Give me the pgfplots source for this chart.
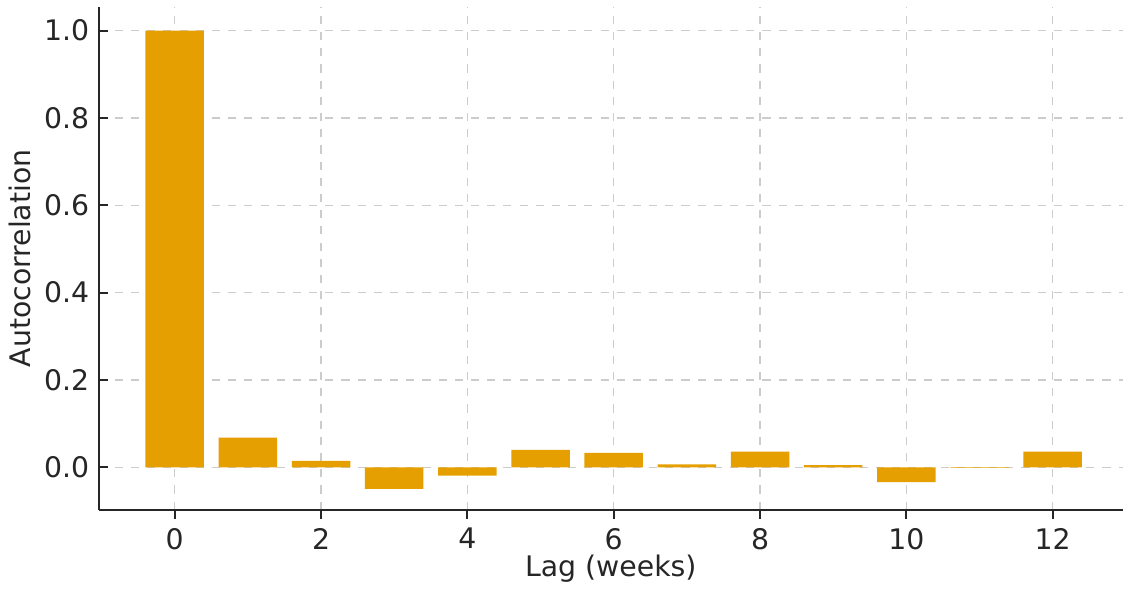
\documentclass[border=0pt]{standalone}
\usepackage{pgfplots}
\pgfplotsset{compat=1.18}
\usepackage{fontspec}
\setmainfont{DejaVu Sans}
\definecolor{barc}{HTML}{E69F00}
\definecolor{axc}{HTML}{262626}
\definecolor{gridc}{HTML}{CCCCCC}
\begin{document}
\begin{tikzpicture}
\begin{axis}[
  scale only axis,
  width=379.6pt, height=186.3pt,
  xmin=-1.04, xmax=12.96,
  ymin=-0.097, ymax=1.054,
  axis x line*=bottom, axis y line*=left,
  axis line style={axc, line width=0.8pt, -},
  xtick={0,2,4,6,8,10,12},
  ytick={0,0.2,0.4,0.6,0.8,1.0},
  yticklabel style={/pgf/number format/.cd, fixed, fixed zerofill, precision=1},
  /pgf/number format/assume math mode=true,
  tick align=inside,
  major tick length=3.3pt,
  tick style={axc, line width=0.8pt},
  ticklabel style={font=\fontsize{10.5}{12.6}\selectfont, text=axc},
  label style={font=\fontsize{10.5}{12.6}\selectfont, text=axc},
  xlabel={Lag (weeks)},
  ylabel={Autocorrelation},
  xlabel style={yshift=4.8pt},
  ylabel style={yshift=-2pt},
  grid=major,
  major grid style={gridc, dashed, line width=0.5pt},
  ybar, bar width=0.8, bar shift=0pt,
]
\addplot[fill=barc, draw=none] coordinates {
(0,1.0) (1,0.068) (2,0.015) (3,-0.049) (4,-0.019) (5,0.040) (6,0.033)
(7,0.007) (8,0.036) (9,0.005) (10,-0.034) (11,-0.001) (12,0.036)
};
\end{axis}
\path (current axis.north west) ++(0,2.6pt);
\end{tikzpicture}
\end{document}
